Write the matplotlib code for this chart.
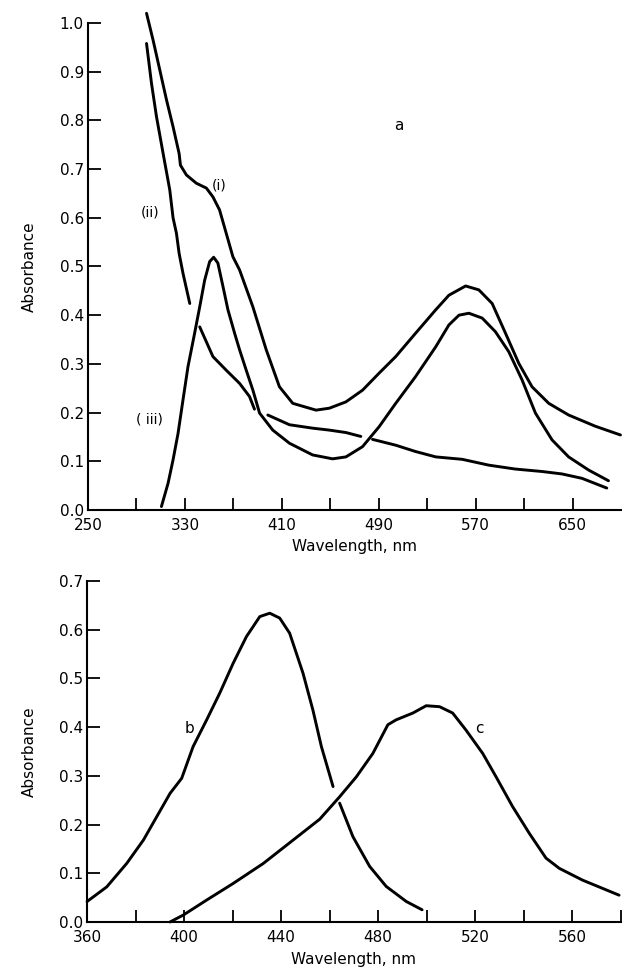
import matplotlib.pyplot as plt
import numpy as np
import matplotlib as mpl
mpl.rc('font', family='DejaVu Sans', size=11)

# --- panel a : wavelength (nm) / absorbance
wl_i = [298.3, 303.7, 309.3, 314.8, 320.2, 325.2, 326.3, 331.2, 339.4, 347.7, 353.1, 358.6,
        364.1, 369.6, 375.1, 386.1, 397.1, 408, 419, 438.2, 449.2, 462.9, 476.6, 490.3,
        504, 520.4, 537, 547.9, 561.7, 572.6, 583.6, 594.6, 605.6, 616.5, 630.3, 646.7,
        668.7, 689.5]
ab_i = [1.02, 0.965, 0.903, 0.842, 0.787, 0.732, 0.708, 0.688, 0.671, 0.661, 0.643, 0.616,
        0.568, 0.52, 0.493, 0.417, 0.329, 0.253, 0.219, 0.205, 0.209, 0.222, 0.246, 0.281,
        0.315, 0.363, 0.411, 0.441, 0.46, 0.452, 0.424, 0.363, 0.301, 0.253, 0.219, 0.195,
        0.172, 0.154]

# (ii) is drawn in pieces, broken where it crosses (iii)
wl_ii = [298.3, 302.4, 306.5, 312, 317.5, 320.2, 323, 325.2, 328.4, 334, np.nan,
         342.2, 353.1, 364.1, 375.1, 383.3, 387.4, np.nan,
         398.4, 416.3, 435.4, 449.2, 462.9, 475.2, np.nan,
         484.8, 504, 520.4, 537, 558.9, 580.9, 602.8, 624.8, 641.2, 657.7, 678.2]
ab_ii = [0.958, 0.876, 0.808, 0.732, 0.657, 0.6, 0.568, 0.527, 0.486, 0.424, np.nan,
         0.376, 0.315, 0.287, 0.26, 0.233, 0.207, np.nan,
         0.195, 0.175, 0.168, 0.164, 0.159, 0.151, np.nan,
         0.145, 0.133, 0.12, 0.109, 0.104, 0.092, 0.084, 0.079, 0.074, 0.065, 0.045]

wl_iii = [310.6, 316.1, 320.2, 324.3, 328.4, 332.5, 338, 342.2, 346.3, 350.4, 353.7, 357.2,
          361.4, 365.5, 371, 375.1, 380.6, 386.1, 391.6, 402.5, 416.3, 435.4, 451.9, 462.9,
          476.6, 490.3, 504, 520.4, 537, 547.9, 556.2, 564.4, 575.4, 586.3, 597.3, 608.3,
          619.3, 633, 646.7, 663.2, 679.6]
ab_iii = [0.007, 0.055, 0.103, 0.157, 0.226, 0.294, 0.363, 0.417, 0.472, 0.51, 0.519, 0.507,
          0.459, 0.411, 0.363, 0.329, 0.287, 0.246, 0.199, 0.164, 0.137, 0.113, 0.105, 0.109,
          0.13, 0.171, 0.219, 0.274, 0.335, 0.38, 0.4, 0.404, 0.394, 0.366, 0.325, 0.267,
          0.199, 0.144, 0.109, 0.082, 0.06]

# --- panel b/c
wl_b = [360, 368.1, 376.3, 383.2, 388.7, 394.2, 399, 403.7, 409.3, 414.7, 420.2, 425.7,
        431.2, 435.3, 439.4, 443.5, 449, 453.1, 456.6, 461.4, np.nan,
        464.1, 469.6, 476.5, 483.3, 491.6, 498.1]
ab_b = [0.042, 0.072, 0.12, 0.168, 0.216, 0.264, 0.295, 0.36, 0.415, 0.47, 0.531, 0.586,
        0.627, 0.634, 0.624, 0.593, 0.511, 0.435, 0.36, 0.278, np.nan,
        0.244, 0.175, 0.114, 0.073, 0.042, 0.025]

wl_c = [394.2, 399.6, 409.3, 420.2, 432.6, 444.9, 455.9, 464.1, 471, 477.8, 484, 487.4,
        494.3, 499.8, 505.3, 510.7, 516.2, 523.1, 528.6, 535.4, 542.3, 549.2, 554.7, 564.2,
        579.3]
ab_c = [0.0, 0.014, 0.045, 0.079, 0.12, 0.168, 0.211, 0.257, 0.298, 0.346, 0.405, 0.415,
        0.429, 0.444, 0.442, 0.429, 0.394, 0.346, 0.298, 0.237, 0.182, 0.131, 0.11, 0.086,
        0.055]

ticks_a = [1.0, 0.9, 0.8, 0.7, 0.6, 0.5, 0.4, 0.3, 0.2, 0.1, 0.0]
ticks_b = [0.7, 0.6, 0.5, 0.4, 0.3, 0.2, 0.1, 0.0]

fig = plt.figure(figsize=(6.22, 9.71), dpi=100)
ax1 = fig.add_axes([0.1415, 0.4748, 0.857, 0.5015])
ax2 = fig.add_axes([0.140, 0.0505, 0.858, 0.3511])

style = dict(color='black', lw=2.1, clip_on=False,
             solid_joinstyle='round', solid_capstyle='round')
ax1.plot(wl_i, ab_i, **style)
ax1.plot(wl_ii, ab_ii, **style)
ax1.plot(wl_iii, ab_iii, **style)
ax2.plot(wl_b, ab_b, **style)
ax2.plot(wl_c, ab_c, **style)

for ax in (ax1, ax2):
    ax.spines['top'].set_visible(False)
    ax.spines['right'].set_visible(False)
    ax.spines['left'].set_linewidth(1.5)
    ax.spines['bottom'].set_linewidth(1.5)
    ax.tick_params(which='both', direction='in', length=9, width=1.3, labelsize=11)
    ax.tick_params(axis='x', which='major', pad=6)
    ax.tick_params(axis='y', pad=3)
    ax.set_ylabel('Absorbance', fontsize=11)
    ax.set_xlabel('Wavelength, nm', fontsize=11, labelpad=4)
    ax.yaxis.set_label_coords(-0.095, 0.5)

ax1.set_xlim(250, 690)
ax1.set_ylim(0, 1.0)
ax1.set_xticks([250, 330, 410, 490, 570, 650])
ax1.set_xticks([290, 370, 450, 530, 610], minor=True)
ax1.set_yticks(ticks_a)
ax1.set_yticklabels(['%.1f' % t for t in ticks_a])

ax2.set_xlim(360, 580)
ax2.set_ylim(0, 0.7)
ax2.set_xticks([360, 400, 440, 480, 520, 560])
ax2.set_xticks([380, 420, 460, 500, 540, 580], minor=True)
ax2.set_yticks(ticks_b)
ax2.set_yticklabels(['%.1f' % t for t in ticks_b])
ax2.xaxis.labelpad = 5

ax1.text(358.6, 0.667, '(i)', fontsize=10, ha='center', va='center')
ax1.text(301, 0.61, '(ii)', fontsize=10, ha='center', va='center')
ax1.text(301, 0.185, '( iii)', fontsize=10, ha='center', va='center')
ax1.text(506.8, 0.789, 'a', fontsize=11, ha='center', va='center')
ax2.text(402.4, 0.398, 'b', fontsize=11, ha='center', va='center')
ax2.text(521.7, 0.398, 'c', fontsize=11, ha='center', va='center')

plt.savefig('out.png', dpi=100)
